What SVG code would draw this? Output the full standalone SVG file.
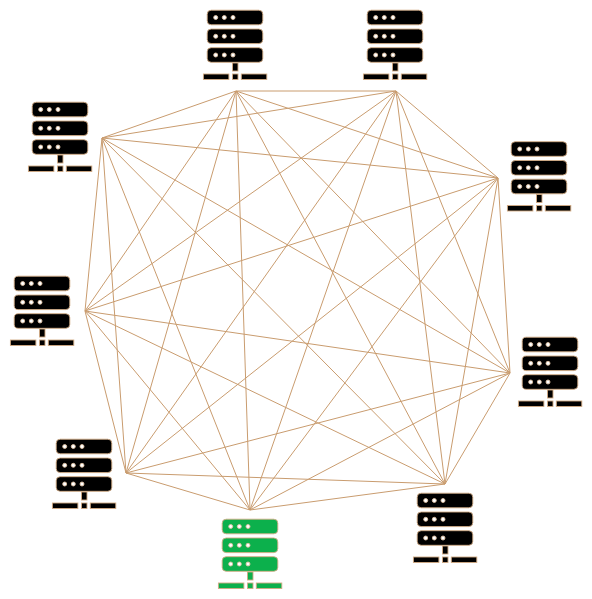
<svg xmlns="http://www.w3.org/2000/svg" xmlns:xlink="http://www.w3.org/1999/xlink" width="592" height="599" viewBox="0 0 592 599">
<style>
.e{stroke:#c99c6f;stroke-width:1;fill:none}
.s{stroke:#d2ab84;stroke-width:.9}
.k{fill:#000}
.g{fill:#0cb04c}
.d{fill:#fff;stroke:#dcc0a2;stroke-width:.9}
</style>
<defs>
<g id="icon">
<rect class="s" x=".2" y=".2" width="55.600" height="14.600" rx="4"/>
<rect class="s" x=".2" y="19" width="55.600" height="14.600" rx="4"/>
<rect class="s" x=".2" y="37.700" width="55.600" height="14.600" rx="4"/>
<rect class="s" x="25.500" y="53" width="5.500" height="8"/>
<rect class="s" x="-3.600" y="64" width="25.500" height="5.500"/>
<rect class="s" x="25.500" y="64" width="5.500" height="5.500"/>
<rect class="s" x="34.300" y="64" width="25.500" height="5.500"/>
<g class="d">
<circle cx="8.700" cy="7.500" r="2"/><circle cx="17.300" cy="7.500" r="2"/><circle cx="26" cy="7.500" r="2"/>
<circle cx="8.700" cy="26.300" r="2"/><circle cx="17.300" cy="26.300" r="2"/><circle cx="26" cy="26.300" r="2"/>
<circle cx="8.700" cy="45" r="2"/><circle cx="17.300" cy="45" r="2"/><circle cx="26" cy="45" r="2"/>
</g>
</g>
</defs>
<g id="connectors" class="e">
<path d="M236 91L396 91M236 91L498 178M236 91L510 373M236 91L445 484M236 91L250 510M236 91L126 473M236 91L85 311M236 91L102 138"/>
<path d="M396 91L498 178M396 91L510 373M396 91L445 484M396 91L250 510M396 91L126 473M396 91L85 311M396 91L102 138"/>
<path d="M498 178L510 373M498 178L445 484M498 178L250 510M498 178L126 473M498 178L85 311M498 178L102 138"/>
<path d="M510 373L445 484M510 373L250 510M510 373L126 473M510 373L85 311M510 373L102 138"/>
<path d="M445 484L250 510M445 484L126 473M445 484L85 311M445 484L102 138"/>
<path d="M250 510L126 473M250 510L85 311M250 510L102 138"/>
<path d="M126 473L85 311M126 473L102 138"/>
<path d="M85 311L102 138"/>
</g>
<g id="node1" class="k"><use xlink:href="#icon" href="#icon" x="207" y="10"/></g>
<g id="node2" class="k"><use xlink:href="#icon" href="#icon" x="367" y="10"/></g>
<g id="node3" class="k"><use xlink:href="#icon" href="#icon" x="511" y="141.500"/></g>
<g id="node4" class="k"><use xlink:href="#icon" href="#icon" x="522" y="337"/></g>
<g id="node5" class="k"><use xlink:href="#icon" href="#icon" x="417" y="493"/></g>
<g id="node6" class="g"><use xlink:href="#icon" href="#icon" x="222" y="519"/></g>
<g id="node7" class="k"><use xlink:href="#icon" href="#icon" x="56" y="439"/></g>
<g id="node8" class="k"><use xlink:href="#icon" href="#icon" x="14" y="276"/></g>
<g id="node9" class="k"><use xlink:href="#icon" href="#icon" x="32" y="102"/></g>
</svg>
